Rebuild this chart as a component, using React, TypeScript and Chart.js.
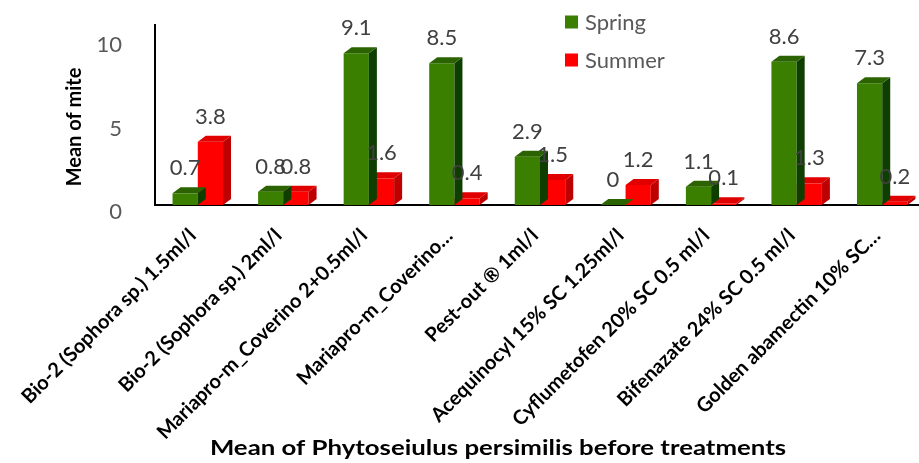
import React, { useEffect, useRef } from "react";
import { Chart, registerables } from "chart.js";

Chart.register(...registerables);

const categories = [
  "Bio-2 (Sophora sp.) 1.5ml/l",
  "Bio-2 (Sophora sp.) 2ml/l",
  "Mariapro-m_Coverino 2+0.5ml/l",
  "Mariapro-m_Coverino…",
  "Pest-out ® 1ml/l",
  "Acequinocyl 15% SC 1.25ml/l",
  "Cyflumetofen 20% SC 0.5 ml/l",
  "Bifenazate 24% SC 0.5 ml/l",
  "Golden abamectin 10% SC…",
];
const springValues = [0.7, 0.8, 9.1, 8.5, 2.9, 0, 1.1, 8.6, 7.3];
const summerValues = [3.8, 0.8, 1.6, 0.4, 1.5, 1.2, 0.1, 1.3, 0.2];
const seriesNames = ["Spring", "Summer"];
const yTicks = [0, 5, 10];
const xTitle = "Mean of Phytoseiulus persimilis before treatments";
const yTitle = "Mean of mite";

const FONT = "Lato, 'Open Sans', sans-serif";
const FRONT = ["#3a7f00", "#ff0000"];
const TOPC = ["#2b6300", "#e00000"];
const SIDE = ["#0f3f00", "#bf0000"];
const DX = 8;
const DY = 6;

const threeD = {
  id: "threeD",
  afterDatasetDraw(chart: any, args: any) {
    const ctx = chart.ctx;
    const i = args.index;
    const meta = chart.getDatasetMeta(i);
    ctx.save();
    for (const el of meta.data) {
      const { x, y, base, width } = el.getProps(["x", "y", "base", "width"], true);
      const l = x - width / 2;
      const r = x + width / 2;
      ctx.fillStyle = SIDE[i];
      ctx.beginPath();
      ctx.moveTo(r, y);
      ctx.lineTo(r + DX, y - DY);
      ctx.lineTo(r + DX, base - DY);
      ctx.lineTo(r, base);
      ctx.closePath();
      ctx.fill();
      ctx.fillStyle = TOPC[i];
      ctx.beginPath();
      ctx.moveTo(l, y);
      ctx.lineTo(l + DX, y - DY);
      ctx.lineTo(r + DX, y - DY);
      ctx.lineTo(r, y);
      ctx.closePath();
      ctx.fill();
    }
    ctx.restore();
  },
  afterDraw(chart: any) {
    const ctx = chart.ctx;
    const ca = chart.chartArea;
    ctx.save();
    // value labels
    ctx.font = `22px ${FONT}`;
    ctx.fillStyle = "#404040";
    ctx.textAlign = "center";
    ctx.textBaseline = "middle";
    chart.data.datasets.forEach((ds: any, i: number) => {
      const meta = chart.getDatasetMeta(i);
      meta.data.forEach((el: any, j: number) => {
        const { x, y } = el.getProps(["x", "y"], true);
        ctx.fillText(String(ds.data[j]), x, y - 25);
      });
    });
    // legend
    ctx.textAlign = "left";
    chart.data.datasets.forEach((ds: any, i: number) => {
      const lx = ca.left + 410;
      const ly = 22 + i * 38;
      ctx.fillStyle = FRONT[i];
      ctx.fillRect(lx, ly - 6.5, 13, 13);
      ctx.fillStyle = "#595959";
      ctx.font = `22px ${FONT}`;
      ctx.fillText(ds.label, lx + 20, ly + 1);
    });
    // x axis title
    ctx.fillStyle = "#000";
    ctx.textAlign = "center";
    ctx.save();
    ctx.translate(498, 448);
    ctx.scale(1.2, 1);
    ctx.font = `bold 21.5px ${FONT}`;
    ctx.fillText(xTitle, 0, 0);
    ctx.restore();
    // y axis title
    ctx.save();
    ctx.translate(75, 127);
    ctx.rotate(-Math.PI / 2);
    ctx.font = `bold 20px ${FONT}`;
    ctx.fillText(yTitle, 0, 0);
    ctx.restore();
    ctx.restore();
  },
};

export default function App() {
  const ref = useRef<HTMLCanvasElement>(null);
  useEffect(() => {
    if (!ref.current) return;
    const chart = new Chart(ref.current, {
      type: "bar",
      data: {
        labels: categories,
        datasets: [
          { label: seriesNames[0], data: springValues, backgroundColor: FRONT[0] },
          { label: seriesNames[1], data: summerValues, backgroundColor: FRONT[1] },
        ],
      },
      plugins: [threeD],
      options: {
        responsive: false,
        animation: false,
        layout: { padding: { top: 25, left: 0, right: 2, bottom: 0 } },
        datasets: { bar: { categoryPercentage: 0.59, barPercentage: 1.0 } },
        plugins: { legend: { display: false }, tooltip: { enabled: false } },
        scales: {
          x: {
            grid: { display: false, drawTicks: false },
            border: { display: true, color: "#000", width: 2 },
            ticks: {
              autoSkip: false,
              maxRotation: 45,
              minRotation: 45,
              padding: 19,
              labelOffset: -5,
              color: "#000",
              font: { family: FONT, size: 20, weight: "bold" },
            },
            afterFit: (s: any) => {
              s.height = 258;
              s.paddingLeft = 0;
              s.paddingRight = 0;
              s.paddingTop = 0;
              s.paddingBottom = 0;
            },
          },
          y: {
            min: 0,
            max: 10.8,
            grid: { display: false, drawTicks: false },
            border: { display: true, color: "#000", width: 2 },
            afterBuildTicks: (s: any) => {
              s.ticks = yTicks.map((v) => ({ value: v }));
            },
            ticks: {
              padding: 33,
              labelOffset: 7,
              color: "#595959",
              font: { family: FONT, size: 22 },
            },
            afterFit: (s: any) => {
              s.width = 155;
              s.paddingTop = 0;
              s.paddingBottom = 0;
              s.paddingLeft = 0;
              s.paddingRight = 0;
            },
          },
        },
      },
    });
    return () => chart.destroy();
  }, []);
  return (
    <div style={{ position: "absolute", left: 0, top: 0, width: 919, height: 463, overflow: "hidden", background: "#fff" }}>
      <canvas ref={ref} width={927} height={463} style={{ display: "block" }} />
    </div>
  );
}
